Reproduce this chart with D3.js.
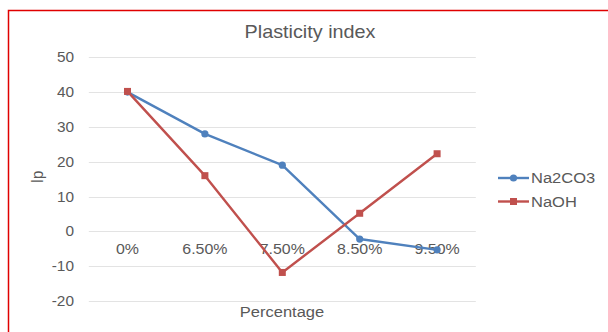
<!DOCTYPE html>
<html><head><meta charset="utf-8">
<script src="https://cdn.jsdelivr.net/npm/d3@7"></script>
<style>
html,body{margin:0;padding:0;background:#fff;}
text{font-family:"Liberation Sans",Arial,sans-serif;fill:#595959;}
</style></head>
<body><svg id="c" width="608" height="332"></svg>
<script>
const categories = ["0%", "6.50%", "7.50%", "8.50%", "9.50%"];
const na2co3 = [40, 28, 19, -2.2, -5.3];
const naoh = [40.2, 16, -11.8, 5.2, 22.3];
const yTicks = [-20, -10, 0, 10, 20, 30, 40, 50];
const seriesNames = ["Na2CO3", "NaOH"];
const colors = ["#4F81BD", "#C0504D"];

const svg = d3.select("#c");
const SX = 1.1; // horizontal text stretch seen in reference

// border
svg.append("path").attr("d","M8.5,400 L8.5,10.5 L700,10.5")
  .attr("fill","none").attr("stroke","#e00000").attr("stroke-width",1.5);

const x = d3.scaleBand().domain(categories).range([88.8, 475.8]);
const y = d3.scaleLinear().domain([-20, 50]).range([301, 57.3]);

// gridlines
svg.append("g").selectAll("line").data(yTicks).join("line")
  .attr("x1", 88.8).attr("x2", 475.8)
  .attr("y1", d => Math.round(y(d)) + 0.5).attr("y2", d => Math.round(y(d)) + 0.5)
  .attr("stroke", "#e3e3e3").attr("stroke-width", 1);

// y axis labels
const ya = svg.append("g").attr("transform","translate(74,0)")
  .call(d3.axisLeft(y).tickValues(yTicks).tickFormat(d => String(d)).tickSize(0).tickPadding(0));
ya.select(".domain").remove();
ya.selectAll("text").attr("font-size", 14).attr("fill","#595959")
  .attr("font-family","Liberation Sans, Arial, sans-serif")
  .attr("transform", `scale(${SX},1)`);

// x axis labels at zero line
const xa = svg.append("g").attr("transform",`translate(0,${y(0)})`)
  .call(d3.axisBottom(x).tickSize(0).tickPadding(12));
xa.select(".domain").remove();
xa.selectAll("text").attr("font-size", 14.5).attr("fill","#595959")
  .attr("font-family","Liberation Sans, Arial, sans-serif")
  .attr("transform", `scale(${SX},1)`);

const line = d3.line().x((d,i) => x(categories[i]) + x.bandwidth()/2).y(d => y(d));
const data = [na2co3, naoh];
data.forEach((vals, k) => {
  svg.append("path").datum(vals).attr("d", line)
    .attr("fill","none").attr("stroke", colors[k]).attr("stroke-width", 2.4)
    .attr("stroke-linejoin","round");
});
// markers
svg.append("g").selectAll("circle").data(na2co3).join("circle")
  .attr("cx",(d,i)=>x(categories[i])+x.bandwidth()/2).attr("cy",d=>y(d))
  .attr("r",3.6).attr("fill",colors[0]);
svg.append("g").selectAll("rect").data(naoh).join("rect")
  .attr("x",(d,i)=>x(categories[i])+x.bandwidth()/2-3.5).attr("y",d=>y(d)-3.5)
  .attr("width",7).attr("height",7).attr("fill",colors[1]);

// title
svg.append("text").attr("transform",`translate(310,38) scale(${SX},1)`)
  .attr("text-anchor","middle").attr("font-size",18).text("Plasticity index");
// axis titles
svg.append("text").attr("transform",`translate(43,177) rotate(-90) scale(1,${SX})`)
  .attr("text-anchor","middle").attr("font-size",15).text("Ip");
svg.append("text").attr("transform",`translate(282,317) scale(${SX},1)`)
  .attr("text-anchor","middle").attr("font-size",15).text("Percentage");

// legend
const ly = [178, 201.5];
seriesNames.forEach((nm,k)=>{
  const g = svg.append("g");
  g.append("line").attr("x1",498).attr("x2",529).attr("y1",ly[k]).attr("y2",ly[k])
    .attr("stroke",colors[k]).attr("stroke-width",2.4);
  if(k===0) g.append("circle").attr("cx",513.5).attr("cy",ly[k]).attr("r",3.6).attr("fill",colors[k]);
  else g.append("rect").attr("x",510).attr("y",ly[k]-3.5).attr("width",7).attr("height",7).attr("fill",colors[k]);
  g.append("text").attr("transform",`translate(531,${ly[k]+5.3}) scale(${SX},1)`)
    .attr("font-size",15).text(nm);
});
</script></body></html>
